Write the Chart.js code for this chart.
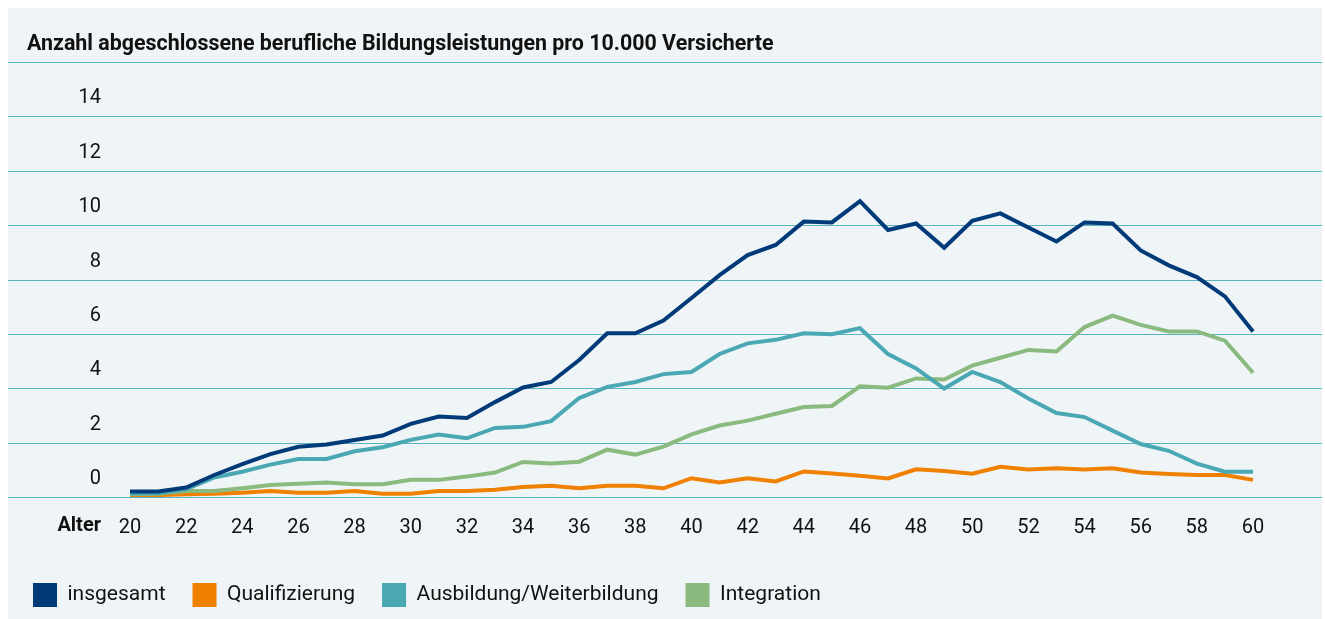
<!DOCTYPE html>
<html lang="de">
<head>
<meta charset="utf-8">
<title>Bildungsleistungen nach Alter</title>
<script src="https://cdn.jsdelivr.net/npm/chart.js@4.4.1/dist/chart.umd.min.js"></script>
<style>
  html, body { margin: 0; padding: 0; background: #ffffff; }
  #panel { position: absolute; left: 8px; top: 8px; width: 1314px; height: 611px; background: #eff4f7; }
  #title { position: absolute; left: 27px; top: 30px; font: bold 21.4px Roboto, sans-serif; color: #111; white-space: nowrap; }
  #wrap { position: absolute; left: 0; top: 0; width: 1325px; height: 619px; }
</style>
</head>
<body>
<div id="panel"></div>
<div id="wrap"><canvas id="myChart"></canvas></div>
<div id="title">Anzahl abgeschlossene berufliche Bildungsleistungen pro 10.000 Versicherte</div>
<script>
// Daten: Alter 20-60
const ages = [20, 21, 22, 23, 24, 25, 26, 27, 28, 29, 30, 31, 32, 33, 34, 35, 36, 37, 38, 39, 40,
  41, 42, 43, 44, 45, 46, 47, 48, 49, 50, 51, 52, 53, 54, 55, 56, 57, 58, 59, 60];

const insgesamt = [0.2, 0.2, 0.35, 0.81, 1.21, 1.58, 1.85, 1.93, 2.1, 2.26, 2.69, 2.96, 2.91, 3.49, 4.03, 4.23, 5.04, 6.02, 6.02, 6.49, 7.32,
  8.16, 8.9, 9.27, 10.13, 10.1, 10.88, 9.82, 10.06, 9.17, 10.16, 10.43, 9.91, 9.4, 10.1, 10.06, 9.07, 8.52, 8.09, 7.38, 6.09];

const qualifizierung = [0.06, 0.07, 0.1, 0.12, 0.16, 0.22, 0.16, 0.16, 0.22, 0.12, 0.12, 0.22, 0.22, 0.27, 0.37, 0.41, 0.32, 0.41, 0.41, 0.32, 0.69,
  0.53, 0.69, 0.57, 0.94, 0.86, 0.78, 0.68, 1.02, 0.96, 0.86, 1.11, 1.01, 1.06, 1.01, 1.06, 0.9, 0.85, 0.81, 0.81, 0.63];

const ausbildung = [0.14, 0.14, 0.28, 0.72, 0.93, 1.19, 1.4, 1.4, 1.68, 1.83, 2.1, 2.3, 2.16, 2.54, 2.58, 2.79, 3.64, 4.05, 4.23, 4.52, 4.6,
  5.26, 5.65, 5.78, 6.02, 5.99, 6.21, 5.26, 4.73, 3.99, 4.6, 4.23, 3.62, 3.09, 2.94, 2.44, 1.95, 1.7, 1.23, 0.93, 0.93];

const integration = [0.1, 0.12, 0.22, 0.22, 0.32, 0.44, 0.49, 0.53, 0.47, 0.47, 0.63, 0.63, 0.75, 0.9, 1.29, 1.23, 1.3, 1.74, 1.56, 1.85, 2.3,
  2.63, 2.81, 3.06, 3.31, 3.35, 4.07, 4.02, 4.36, 4.32, 4.83, 5.12, 5.41, 5.35, 6.25, 6.67, 6.33, 6.09, 6.09, 5.75, 4.57];

const seriesNames = ["insgesamt", "Qualifizierung", "Ausbildung/Weiterbildung", "Integration"];
const seriesColors = ["#003a78", "#f08000", "#4aa8b4", "#8aba7e"];
const yTicks = [0, 2, 4, 6, 8, 10, 12, 14, 16];

const FONT = "Roboto, sans-serif";
const gridColor = "#5ab4c0";

// Gitterlinien über die ganze Breite des Panels
const fullGrid = {
  id: "fullGrid",
  beforeDatasetsDraw(chart) {
    const ctx = chart.ctx;
    const y = chart.scales.y;
    ctx.save();
    ctx.strokeStyle = gridColor;
    ctx.lineWidth = 1.2;
    yTicks.forEach(v => {
      const py = Math.round(y.getPixelForValue(v)) + 0.5;
      ctx.beginPath();
      ctx.moveTo(8, py);
      ctx.lineTo(1322, py);
      ctx.stroke();
    });
    ctx.restore();
  }
};

// "Alter" links neben der x-Achse
const alterLabel = {
  id: "alterLabel",
  afterDraw(chart) {
    const ctx = chart.ctx;
    const x = chart.scales.x;
    ctx.save();
    ctx.font = "bold 20px " + FONT;
    ctx.fillStyle = "#111";
    ctx.textAlign = "right";
    ctx.textBaseline = "middle";
    ctx.fillText("Alter", 101, x.top + 29);
    ctx.restore();
  }
};

const datasets = [insgesamt, qualifizierung, ausbildung, integration].map((d, i) => ({
  label: seriesNames[i],
  data: d,
  borderColor: seriesColors[i],
  backgroundColor: seriesColors[i],
  borderWidth: 4,
  pointRadius: 0,
  tension: 0
}));
// Reihenfolge beim Zeichnen: insgesamt oben
datasets[0].order = 0;
datasets[1].order = 3;
datasets[2].order = 1;
datasets[3].order = 2;

new Chart("myChart", {
  type: "line",
  data: { labels: ages, datasets: datasets },
  plugins: [fullGrid, alterLabel],
  options: {
    responsive: true,
    maintainAspectRatio: false,
    animation: false,
    layout: { padding: { left: 6, right: 72, top: 62, bottom: 2 } },
    scales: {
      x: {
        afterFit: scale => { scale.height -= 3; },
        grid: { display: false, drawTicks: false },
        border: { display: false },
        ticks: {
          autoSkip: false,
          maxRotation: 0,
          padding: 19,
          color: "#111",
          font: { family: FONT, size: 20 },
          callback: (v, i) => (ages[i] % 2 === 0 ? ages[i] : "")
        }
      },
      y: {
        min: 0,
        max: 16,
        afterFit: scale => { scale.width = 124; },
        grid: { display: false, drawTicks: false },
        border: { display: false },
        ticks: {
          stepSize: 2,
          padding: 29,
          labelOffset: -18,
          color: "#111",
          font: { family: FONT, size: 20 },
          callback: v => (v === 16 ? "" : v)
        }
      }
    },
    plugins: {
      title: { display: false },
      tooltip: { enabled: false },
      legend: {
        position: "bottom",
        align: "start",
        labels: {
          boxWidth: 24,
          boxHeight: 24,
          padding: 27,
          color: "#111",
          font: { family: FONT, size: 21 },
          sort: (a, b) => a.datasetIndex - b.datasetIndex,
          generateLabels: chart => Chart.defaults.plugins.legend.labels.generateLabels(chart)
            .map(item => ({ ...item, lineWidth: 0 }))
        }
      }
    }
  }
});
</script>
</body>
</html>
